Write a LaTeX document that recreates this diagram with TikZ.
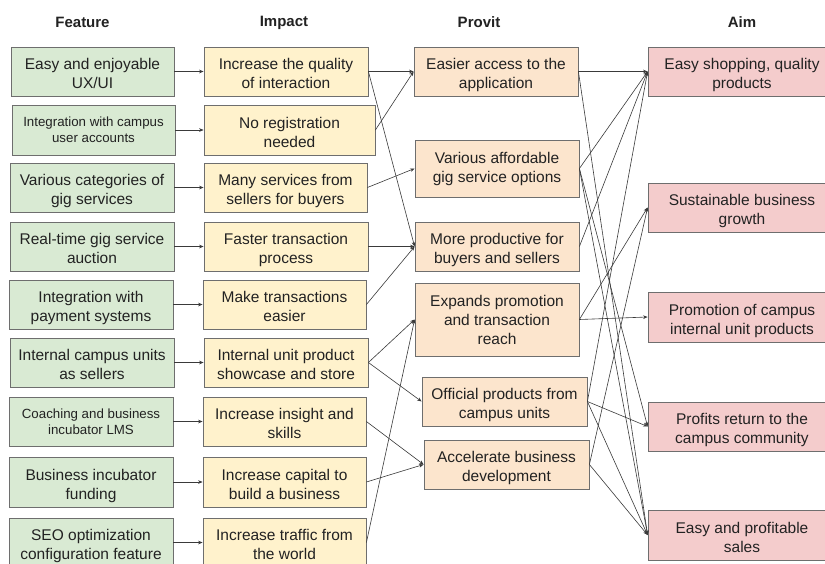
\documentclass[tikz,border=0pt]{standalone}
\usepackage{fontspec}
\setmainfont{Liberation Sans}
\usetikzlibrary{arrows.meta}

\definecolor{featfill}{HTML}{D9EAD3}
\definecolor{impfill}{HTML}{FFF2CC}
\definecolor{profill}{HTML}{FCE5CD}
\definecolor{aimfill}{HTML}{F4CCCC}
\definecolor{boxline}{HTML}{6E6E6E}
\definecolor{linkline}{HTML}{3A3A3A}
\definecolor{txt}{HTML}{222222}

% two lines of box text, set a little below the middle of the box
\newcommand{\twoline}[2]{\rule{0pt}{19pt}#1\\#2\rule[-4pt]{0pt}{4pt}}

\tikzset{
  box/.style={draw=boxline, line width=0.8pt, align=center, text=txt,
    inner sep=0pt, minimum height=49pt,
    font=\fontsize{15.5}{19}\selectfont},
  small/.style={font=\fontsize{13.3}{15.8}\selectfont},
  feat/.style={box, fill=featfill},
  imp/.style={box, fill=impfill},
  pro/.style={box, fill=profill},
  aim/.style={box, fill=aimfill, minimum width=188pt},
  head/.style={text=txt, font=\fontsize{15}{18}\selectfont\bfseries},
  link/.style={draw=linkline, line width=0.6pt,
    -{Stealth[length=4.5pt,width=3.6pt]}},
}

\begin{document}
\begin{tikzpicture}[x=1pt,y=-1pt]
  \clip (0,0) rectangle (825,563);
  \fill[white] (0,0) rectangle (825,563);

  % column headings
  \node[head] (hf) at (82.5,22.5) {Feature};
  \node[head] (hi) at (284,22.5) {Impact};
  \node[head] (hp) at (479,22.5) {Provit};
  \node[head] (ha) at (742,22.5) {Aim};

  % features
  \node[feat, minimum width=163pt] (f1) at (92.5,71.5) {\twoline{Easy and enjoyable}{UX/UI}};
  \node[feat, small, minimum width=163pt, minimum height=50pt] (f2) at (93.5,130) {Integration with campus\\user accounts};
  \node[feat, minimum width=164pt] (f3) at (92,187.5) {\twoline{Various categories of}{gig services}};
  \node[feat, minimum width=164pt] (f4) at (92,246.5) {\twoline{Real-time gig service}{auction}};
  \node[feat, minimum width=164pt] (f5) at (91,304.5) {\twoline{Integration with}{payment systems}};
  \node[feat, minimum width=164pt] (f6) at (92,362.5) {\twoline{Internal campus units}{as sellers}};
  \node[feat, small, minimum width=164pt] (f7) at (91,421.5) {Coaching and business\\incubator LMS};
  \node[feat, minimum width=164pt, minimum height=50pt] (f8) at (91,482) {\twoline{Business incubator}{funding}};
  \node[feat, minimum width=164pt] (f9) at (91,542.5) {\twoline{SEO optimization}{configuration feature}};

  % impacts
  \node[imp, minimum width=164pt] (i1) at (286,71.5) {\twoline{Increase the quality}{of interaction}};
  \node[imp, minimum width=171pt, minimum height=50pt] (i2) at (289.5,130) {\twoline{No registration}{needed}};
  \node[imp, minimum width=163pt] (i3) at (285.5,187.5) {\twoline{Many services from}{sellers for buyers}};
  \node[imp, minimum width=164pt] (i4) at (286,246.5) {\twoline{Faster transaction}{process}};
  \node[imp, minimum width=163pt] (i5) at (284.5,304.5) {\twoline{Make transactions}{easier}};
  \node[imp, minimum width=164pt] (i6) at (286,362.5) {\twoline{Internal unit product}{showcase and store}};
  \node[imp, minimum width=163pt] (i7) at (284.5,421.5) {\twoline{Increase insight and}{skills}};
  \node[imp, minimum width=163pt, minimum height=50pt] (i8) at (284.5,482) {\twoline{Increase capital to}{build a business}};
  \node[imp, minimum width=163pt] (i9) at (284.5,542.5) {\twoline{Increase traffic from}{the world}};

  % profits
  \node[pro, minimum width=164pt] (p1) at (496,71.5) {\twoline{Easier access to the}{application}};
  \node[pro, minimum width=164pt, minimum height=57pt] (p2) at (497,168.5) {Various affordable\\gig service options};
  \node[pro, minimum width=164pt] (p3) at (497,246.5) {\twoline{More productive for}{buyers and sellers}};
  \node[pro, minimum width=164pt, minimum height=73pt] (p4) at (497,319.5) {Expands promotion\\and transaction\\reach};
  \node[pro, minimum width=165pt] (p5) at (504.5,401.5) {\twoline{Official products from}{campus units}};
  \node[pro, minimum width=165pt] (p6) at (506.5,464.5) {\twoline{Accelerate business}{development}};

  % aims
  \node[aim] (a1) at (742,71.5) {\twoline{Easy shopping, quality}{products}};
  \node[aim] (a2) at (742,207.5) {\twoline{Sustainable business}{growth}};
  \node[aim, minimum height=50pt] (a3) at (742,317) {\twoline{Promotion of campus}{internal unit products}};
  \node[aim] (a4) at (742,426.5) {\twoline{Profits return to the}{campus community}};
  \node[aim, minimum height=50pt] (a5) at (742,535) {\twoline{Easy and profitable}{sales}};

  % feature -> impact
  \foreach \k in {1,...,9} {
    \draw[link] (f\k.east) -- (i\k.west);
  }

  % impact -> profit
  \draw[link] (i1.east) -- (p1.west);
  \draw[link] (i1.east) -- (p3.west);
  \draw[link] (i2.east) -- (p1.west);
  \draw[link] (i3.east) -- (p2.west);
  \draw[link] (i4.east) -- (p3.west);
  \draw[link] (i5.east) -- (p3.west);
  \draw[link] (i6.east) -- (p4.west);
  \draw[link] (i6.east) -- (p5.west);
  \draw[link] (i7.east) -- (p6.west);
  \draw[link] (i8.east) -- (p6.west);
  \draw[link] (i9.east) -- (p4.west);

  % profit -> aim
  \draw[link] (p1.east) -- (a1.west);
  \draw[link] (p1.east) -- (a5.west);
  \draw[link] (p2.east) -- (a1.west);
  \draw[link] (p2.east) -- (a4.west);
  \draw[link] (p2.east) -- (a5.west);
  \draw[link] (p3.east) -- (a1.west);
  \draw[link] (p4.east) -- (a2.west);
  \draw[link] (p4.east) -- (a3.west);
  \draw[link] (p5.east) -- (a1.west);
  \draw[link] (p5.east) -- (a4.west);
  \draw[link] (p5.east) -- (a5.west);
  \draw[link] (p6.east) -- (a2.west);
  \draw[link] (p6.east) -- (a5.west);
\end{tikzpicture}
\end{document}
